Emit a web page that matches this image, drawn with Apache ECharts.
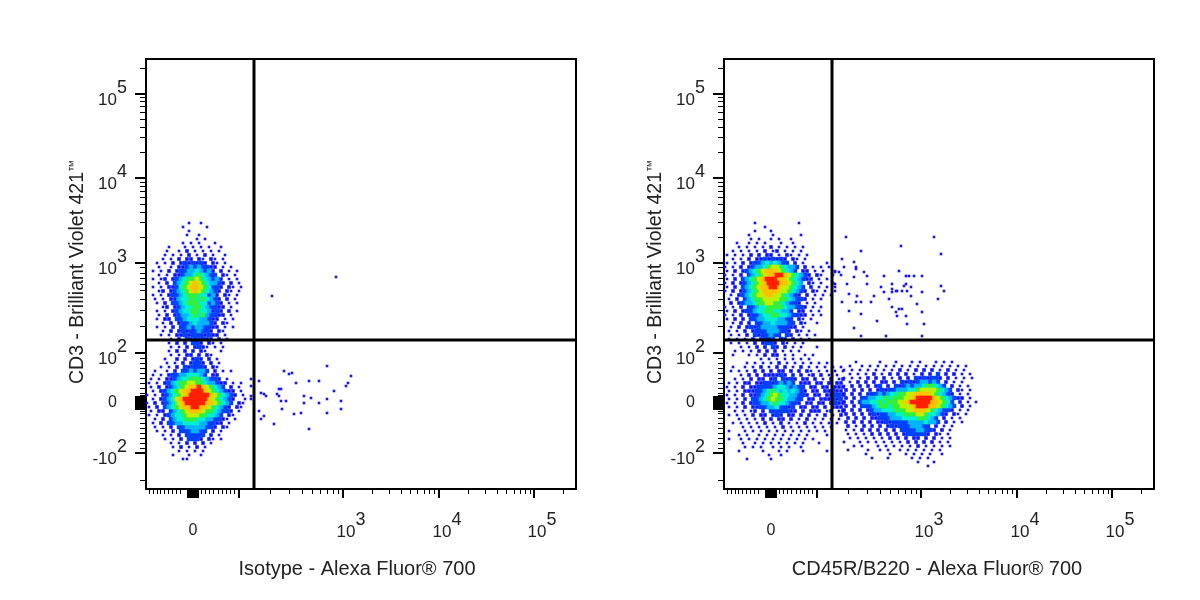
<!DOCTYPE html>
<html lang="en">
<head>
    <meta charset="UTF-8">
    <title>CD3 flow cytometry</title>
    <style>
        html, body { margin: 0; background: #fff; }
        #main { width: 1200px; height: 600px; }
    </style>
</head>
<body>
<div id="main"></div>
<script src="https://cdn.jsdelivr.net/npm/echarts@6/dist/echarts.min.js"></script>
<script>
    // axis units are biexponential display units, 0 = zero signal
    const xRange = [-47, 383];
    const yRange = [-86, 344];
    const gateX = 61;
    const gateY = 63;

    const xLabelValues = [0, 150, 246, 341];
    const xLabelTexts = ['0', '10|3', '10|4', '10|5'];
    const yLabelValues = [-50, 0, 50, 140, 225, 309];
    const yLabelTexts = ['-10|2', '0', '10|2', '10|3', '10|4', '10|5'];

    const xMajorTicks = [-5, -3, -1, 0, 1, 3, 5, 46, 150, 246, 341];
    const xMinorTicks = [-44, -40, -36, -33, -29, -25, -21, -17, -13, -6, -4, -2, 2, 4, 8, 12, 16, 20, 25, 29, 33, 37, 41,
        77, 96, 109, 119, 127, 134, 140, 145, 179, 196, 208, 217, 224, 231, 236, 241, 275, 292, 304, 313, 321, 327, 332, 337, 370];
    const yMajorTicks = [-50, -6, -4, -2, 0, 2, 4, 6, 50, 140, 225, 309];
    const yMinorTicks = [-77, -45, -40, -35, -30, -25, -20, -15, -10, -8, -5, -3, -1, 1, 3, 5, 8, 10, 15, 20, 25, 30, 35, 40, 45,
        77, 93, 104, 113, 119, 125, 130, 136, 166, 181, 191, 199, 206, 212, 217, 221, 251, 266, 276, 284, 291, 297, 302, 306, 335];

    const xNames = ['Isotype - Alexa Fluor® 700', 'CD45R/B220 - Alexa Fluor® 700'];
    const yName = 'CD3 - Brilliant Violet 421{t|™}';

    // density in 4-unit bins, . = empty, 1-9 = blue to red
    const binSize = 4;
    const leftUpperOrigin = [-48, 180];
    const leftUpperRows = [
        '...........1..1...........',
        '.........1.....1..........',
        '...........1..............',
        '..........1..1............',
        '.............1.1..........',
        '.........1.1.1...1........',
        '......1...1.1.1.1..1......',
        '.....1..1.2.1.1.1.1.......',
        '.....1.1.1.2.1.2.1..1.....',
        '....1.1.2.22.21.21.1......',
        '...1.1.2.2323232.21.1.....',
        '...1..1.2234343322.1.1....',
        '..1.1.2.2334454342.2.1.1..',
        '...1.1.22344565433.21.1...',
        '..1.12.2345667654342.1.1..',
        '...1.2.3456787654432.2.1..',
        '..1.1.22356788765332.21.1.',
        '...12.2345678765432.21.1..',
        '..1.1.2334566655342.21.1..',
        '..1.1.2245566565432.2.1...',
        '...1.2.3345666553432.1.1..',
        '....12.2345566543322.1....',
        '...1.1.2345566554232.2.1..',
        '...1.2.2344565643322.1....',
        '...1.22.33455544322.1.1...',
        '....1.2.2334544432.21.....',
        '...1.1.2.3343443322.1.1...',
        '....1.2.232334332.21......',
        '....1.1.22323332322.1.....',
        '......1.2.3232322.2.1.....'
    ];
    const leftLowerOrigin = [-52, 60];
    const leftLowerRows = [
        '.......1.2.2.332.21.1.....',
        '.......1.1.2.2321.1.1.....',
        '.......1.2.2.2.21...1....',
        '.......1.1.22.2.21.......',
        '......1..2.2.232.2.1.....',
        '......1.1.2.2332.2.1.....',
        '.....1.1.2.323332.21.....',
        '...1..1.2.3343443.2.1.1..',
        '...1.1.2334455543.22.....',
        '..1.1.22345566654332.1...',
        '..1.1.2345667766544322.1.1',
        '..1.2.234567889876543.2.1.',
        '.1.1.2345678899987654322.1.',
        '.1.1.2345678999998765432.1.',
        '.1.1.2345789999998765432..1',
        '.1.2.234578999998876543.21.',
        '..1.2.34567889988765432.21.',
        '..1.22.3456788876654332.1..',
        '..1.1.234556777665543.21...',
        '...1.2.345566655443321.1..',
        '...1.2.33445555443322.1...',
        '...1.1.2.3344444332.21.....',
        '....1.1.2.3334433.2.1.....',
        '.....1.1.2.33333.2.1......',
        '......1.1.2.3332.21.1.....',
        '.......1.1.2.2.2.1........',
        '........1.2.1.2.1.........',
        '.........1.1.1.1..........',
        '........1...1..1..........',
        '..........11..............'
    ];
    const leftSparse = [[143, 126], [79, 107], [91, 32], [96, 29], [99, 30], [134, 37], [158, 27], [155, 20], [153, 17], [66, 22],
        [103, 20], [116, 22], [126, 22], [58, 24], [58, 17], [68, 10], [71, 9], [73, 7], [86, 14], [88, 14], [84, 9], [86, 7],
        [88, 2], [93, 2], [111, 7], [118, 5], [111, 0], [126, 0], [141, 12], [134, 4], [148, 2], [148, -6], [134, -10], [108, -10],
        [101, -11], [89, -6], [66, -8], [71, -13], [68, -16], [81, -21], [116, -26], [58, 7], [58, 4]];

    const rightUpperOrigin = [-52, 180];
    const rightUpperRows = [
        '.........1..........1...',
        '...........1............',
        '.........1...1..........',
        '.......1.....1......1...',
        '........1.1..1.1..1.....',
        '....1..1.1.1...1..1.....',
        '.....1.1.1.1.2.1.1.1.1..',
        '...1.1.1.1.2.12.1.1.1....',
        '..1.1.1.2.2.22.1.21.1.1..',
        '...1.1.2.22323232.21.1..',
        '..1.1.2.2334545433.2.1.....1',
        '.1.1.2.2344567765443.2.1.1.1...',
        '..1.2.23456788876543.22.1.1..1',
        '.1.1.2.3456788998765432.21..1.1',
        '1.1.2.345678999887654322.1.1.',
        '.1.2.2345678999887654.21.1..1',
        '1.1.2.3456788998776543.2.1.1.',
        '.1.2.23456788887765432.21.1.',
        '.1.1.2345677887765432.2.1.1.1',
        '1.1.2.3456677776654332.1.1.',
        '.1.2.2344566776654332.1.1',
        '.1.1.2.334556666544332.1.1',
        '..1.2.2334556655443.22.1.1',
        '.1.1.2.233455665543322.1.1.',
        '..1.2.2.33445554433.21.1.',
        '...1.2.2.3344544433.21..1',
        '.1.1.2.2323444433322.1...',
        '..1.1.2.2333444332.21.1.',
        '...1.1.2.3233433.32.1.1.1',
        '..1.1.1.2.2333.32.2.1.1..',
        '...1.1.1.2.2332.21.1.1...',
        '.....1.1.2.2.32.2.1.1...1.',
        '....1.1.1.2.2.2.1.1.1....',
        '...1...1.1.2.22.1.1..1.1.'
    ];
    const rightLowerOrigin = [-54, 44];
    const rightLowerRows = [
        '...........1.1.1.1.1.1.1........',
        '.......1.1.1.1.2.1.1.1.1.1.1....',
        '....1..1.1.2.1.2.2.1.2.1.1.1.1.1',
        '...1.1.1.2.2.2.22.2.2.21.1.1.1.1',
        '......1.2.2.222232.2.2.12.2.1.1.',
        '....1.1.2.22.23.3232.22.2.1.2.12',
        '...1.1.22.2233234343.222.22.2.22',
        '..1.1.2.22333345543433.22.22.222',
        '...1.1.2223345654545432.22.22322',
        '..1.1.2.223456765544332.22.22332',
        '...1.1.2.3345676654433.22.222323',
        '..1.1.2.2334456554332.22.22.2322',
        '...1.1.2.22334453323.22.22.2.222',
        '....1.1.12.2.3333322.2.222.12.12',
        '...1.1.1.2.22.232.22.2.2.1.2.1.2',
        '.....1.1.1.2.2.22.2.1.2.1.1.1.1.',
        '....1.1.1.1.2.1.2.1.1.2.1.1.1.1.',
        '......1.1.1.1.1.2.1.1.1.1.1.1.',
        '...1...1.1.1.1.1.1.1.1.1.1.1..',
        '.....1.1..1.1.1.1.1.1.1....1',
        '...1..1.1.1.1.1.1.1.1.1.1.',
        '......1..1.1.1.1.1.1.1...1.',
        '.......1.1.1..1.1.1..1....',
        '.....1.....1...1.1...1.....1',
        '.............1..1.........',
        '.......1.....1.............'
    ];
    const rightFarOrigin = [73, 41];
    const rightFarRows = [
        '...1.....1...1...1.1...1.1.1.....',
        '.1..1.1.1.1.1.1.1.1.1.1.1.1.1.1.',
        '1.1.1.1.1.1.1.2.1.2.2.2.1.2.1.1.',
        '.1.1.1.2.1.2.2.2.1.2.2.3.2.2.1.1.',
        '1.1.1.2.2.2.1.2.2.3232332.2.1.1.1',
        '.1.2.2.2.22.2.3232344343.2.1.1.',
        '1.2.2.2.23.2.3234344566543.2.1.1',
        '2.2.2.2.2323344455677776543.21.1',
        '2.2.2.2334345566778888765432.1.1.',
        '2.2.33445565666778999987654322.1',
        '2.2.344556566677899999887653.2.1.1',
        '2.2.333456656677789998876543.2.1.',
        '2.2.2.2344555666778887654332.1.1',
        '2.2.2.23233445566677655432.21.1',
        '.2.2.2.22333444555566543.2.1.1',
        '2.2.2.2.2232333344445443.2.1.1',
        '.2.1.2.2.2.23233344433.2.1.1',
        '1.1.2.2.2.2.2.333344332.2.1.',
        '.1.1.1.2.2.2.2.2333332.21.1',
        '.1.1.1.1.1.2.2.2.22.2.2.1.1',
        '1...1.1.1.1.1.1.2.2.2.2.1.1.',
        '..1.1...1.1.1.1.1.2.1.1.1.1.',
        '.1....1..1.1..1.1.1.1.1.1.',
        '.....1.....1...1.1.1.1..1',
        '.......1...1.....1.1.1',
        '..................1...1',
        '.....................1'
    ];
    const rightSparse = [[75, 166], [90, 152], [71, 144], [83, 141], [73, 136], [85, 136], [85, 134], [64, 131], [68, 131], [93, 131],
        [96, 127], [83, 126], [76, 119], [96, 119], [64, 119], [64, 116], [64, 112], [78, 109], [86, 107], [103, 107], [71, 101],
        [85, 101], [90, 101], [100, 101], [78, 92], [90, 89], [83, 75], [90, 67], [106, 82], [115, 67], [110, 116], [113, 111],
        [113, 127], [121, 119], [121, 114], [121, 111], [125, 112], [126, 112], [131, 112], [133, 117], [135, 119], [136, 112],
        [140, 116], [140, 107], [118, 104], [121, 96], [125, 91], [128, 94], [131, 94], [126, 87], [135, 87], [136, 79], [146, 99],
        [151, 91], [153, 79], [151, 67], [128, 132], [130, 157], [135, 127], [138, 127], [143, 127], [151, 127], [163, 166],
        [170, 149], [170, 117], [173, 112], [167, 104], [151, 111]];

    const levelColors = ['', '#1414ff', '#0a14ff', '#0040ff', '#00b4ff', '#00f0d0', '#30f040', '#c0f000', '#ffc000', '#ff2000'];
    const levelSizes = [0, 2.6, 3.6, 4.4, 4.6, 4.6, 4.6, 4.6, 4.6, 4.6];

    function binsToPoints(rows, origin) {
        const points = [];
        rows.forEach((row, r) => {
            // every other row sits half a bin over, the dots read less like a grid
            const shift = r % 2 ? binSize / 2 : 0;
            row.split('').forEach((ch, c) => {
                if (ch !== '.') points.push([origin[0] + c * binSize + shift, origin[1] - r * binSize, Number(ch)]);
            });
        });
        return points;
    }

    function panelPoints(blocks, sparse) {
        let points = sparse.map(p => [p[0], p[1], 1]);
        blocks.forEach(b => { points = points.concat(binsToPoints(b[0], b[1])); });
        // hot bins on top
        return points.sort((a, b) => a[2] - b[2]);
    }

    const panels = [
        panelPoints([[leftUpperRows, leftUpperOrigin], [leftLowerRows, leftLowerOrigin]], leftSparse),
        panelPoints([[rightUpperRows, rightUpperOrigin], [rightLowerRows, rightLowerOrigin], [rightFarRows, rightFarOrigin]], rightSparse)
    ];

    const richText = {
        b: { fontFamily: 'Liberation Sans', fontSize: 17, color: '#222', verticalAlign: 'bottom', padding: [12, 0, 0, 0] },
        s: { fontFamily: 'Liberation Sans', fontSize: 18, color: '#222', verticalAlign: 'top', padding: [0, 0, 12, 0] },
        xz: { fontFamily: 'Liberation Sans', fontSize: 16, color: '#222', padding: [12, 0, 0, 0] },
        yz: { fontFamily: 'Liberation Sans', fontSize: 16, color: '#222', padding: [0, 10, 0, 0] },
        pad: { width: 16 }
    };

    function tickFormatter(values, texts, pad, zeroStyle) {
        return function (v) {
            const parts = texts[values.indexOf(v)].split('|');
            if (parts.length < 2) return '{' + zeroStyle + '|' + parts[0] + '}';
            return (pad ? '{pad|}' : '') + '{b|' + parts[0] + '}{s|' + parts[1] + '}';
        };
    }

    const grids = [], xAxes = [], yAxes = [], series = [];
    panels.forEach((points, i) => {
        grids.push({
            left: 146 + i * 578, top: 59, width: 430, height: 430, show: true,
            backgroundColor: '#fff', borderColor: '#000', borderWidth: 2
        });
        xAxes.push({
            type: 'value', gridIndex: i, position: 'bottom', min: xRange[0], max: xRange[1],
            name: xNames[i], nameLocation: 'middle', nameGap: 70,
            nameTextStyle: { fontFamily: 'Liberation Sans', fontSize: 20, color: '#222', padding: [0, i ? 4 : 8, 0, 0] },
            axisLine: { onZero: false, lineStyle: { color: '#000', width: 2 } },
            splitLine: { show: false },
            axisTick: { length: 9, lineStyle: { color: '#000', width: 2 }, customValues: xMajorTicks },
            axisLabel: {
                customValues: xLabelValues, margin: 22, rich: richText,
                formatter: tickFormatter(xLabelValues, xLabelTexts, true, 'xz')
            }
        }, {
            type: 'value', gridIndex: i, position: 'bottom', min: xRange[0], max: xRange[1],
            axisLine: { show: false, onZero: false }, splitLine: { show: false }, axisLabel: { show: false },
            axisTick: { length: 5, lineStyle: { color: '#000', width: 1 }, customValues: xMinorTicks }
        });
        yAxes.push({
            type: 'value', gridIndex: i, position: 'left', min: yRange[0], max: yRange[1],
            name: yName, nameLocation: 'middle', nameGap: 58,
            nameTextStyle: {
                fontFamily: 'Liberation Sans', fontSize: 19.5, color: '#222', padding: [0, 0, 0, 4],
                rich: { t: { fontFamily: 'Liberation Sans', fontSize: 12, color: '#222', padding: [0, 0, 8, 0] } }
            },
            axisLine: { onZero: false, lineStyle: { color: '#000', width: 2 } },
            splitLine: { show: false },
            axisTick: { length: 11, lineStyle: { color: '#000', width: 2 }, customValues: yMajorTicks },
            axisLabel: {
                customValues: yLabelValues, margin: 19, rich: richText,
                formatter: tickFormatter(yLabelValues, yLabelTexts, false, 'yz')
            }
        }, {
            type: 'value', gridIndex: i, position: 'left', min: yRange[0], max: yRange[1],
            axisLine: { show: false, onZero: false }, splitLine: { show: false }, axisLabel: { show: false },
            axisTick: { length: 6, lineStyle: { color: '#000', width: 1 }, customValues: yMinorTicks }
        });
        const xi = i * 2, yi = i * 2;
        series.push({
            type: 'scatter', xAxisIndex: xi, yAxisIndex: yi, data: points, symbol: 'rect',
            symbolSize: d => levelSizes[d[2]],
            itemStyle: { color: p => levelColors[p.data[2]], opacity: 1 },
            progressive: 0, silent: true, z: 2
        }, {
            type: 'line', xAxisIndex: xi, yAxisIndex: yi, data: [[gateX, yRange[0]], [gateX, yRange[1]]],
            symbol: 'none', lineStyle: { color: '#000', width: 3 }, silent: true, z: 3
        }, {
            type: 'line', xAxisIndex: xi, yAxisIndex: yi, data: [[xRange[0], gateY], [xRange[1], gateY]],
            symbol: 'none', lineStyle: { color: '#000', width: 3 }, silent: true, z: 3
        });
    });

    const myChart = echarts.init(document.getElementById('main'), null, { renderer: 'canvas' });
    myChart.setOption({
        animation: false,
        backgroundColor: '#fff',
        grid: grids,
        xAxis: xAxes,
        yAxis: yAxes,
        series: series
    });
</script>
</body>
</html>
